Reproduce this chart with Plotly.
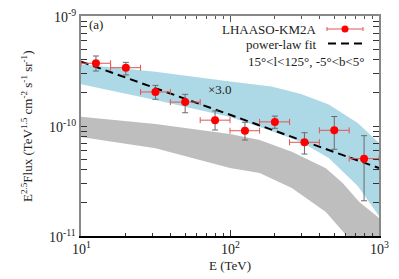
import math
import plotly.graph_objects as go

# ---- data ----
E = [12.6, 20.0, 31.6, 50.0, 79.4, 126.0, 200.0, 316.0, 501.0, 794.0]
E_lo = [10.0, 15.8, 25.1, 39.8, 63.1, 100.0, 158.0, 251.0, 398.0, 631.0]
E_hi = [15.8, 25.1, 39.8, 63.1, 100.0, 158.0, 251.0, 398.0, 631.0, 1000.0]
F = [3.72e-10, 3.39e-10, 2.04e-10, 1.65e-10, 1.13e-10, 9.06e-11, 1.09e-10, 7.11e-11, 9.14e-11, 5.05e-11]
F_up = [4.33e-10, 3.79e-10, 2.34e-10, 1.94e-10, 1.37e-10, 1.08e-10, 1.23e-10, 8.69e-11, 1.22e-10, 8.17e-11]
F_lo = [3.16e-10, 2.91e-10, 1.75e-10, 1.32e-10, 9.2e-11, 7.46e-11, 9.53e-11, 5.56e-11, 6.14e-11, 2.09e-11]

fit_E = [10.0, 1000.0]
fit_F = [3.85e-10, 4.15e-11]

blue_E = [10.0, 31.6, 100.0, 190.0, 300.0, 460.0, 720.0, 1000.0]
blue_hi = [3.64e-10, 3.115e-10, 2.537e-10, 2.286e-10, 1.954e-10, 1.568e-10, 1.064e-10, 7.0e-11]
blue_lo = [2.393e-10, 1.723e-10, 1.208e-10, 9.0e-11, 7.16e-11, 5.12e-11, 2.85e-11, 1.52e-11]

gray_hi_E = [10.0, 31.6, 100.0, 158.0, 260.0, 440.0, 570.0, 735.0, 1000.0]
gray_hi = [1.215e-10, 1.043e-10, 8.46e-11, 7.46e-11, 5.84e-11, 4.125e-11, 3.03e-11, 2.05e-11, 1.46e-11]
gray_lo_E = [10.0, 31.6, 100.0, 158.0, 260.0, 440.0, 600.0, 1000.0]
gray_lo = [7.94e-11, 6.27e-11, 4.15e-11, 3.74e-11, 2.73e-11, 1.65e-11, 1.02e-11, 5.0e-12]

x_major = [10, 100, 1000]
x_major_text = ["10<sup>1</sup>", "10<sup>2</sup>", "10<sup>3</sup>"]
y_major = [1e-11, 1e-10, 1e-9]
y_major_text = ["10<sup>-11</sup>", "10<sup>-10</sup>", "10<sup>-9</sup>"]

X_RANGE = [1, 3]
Y_RANGE = [-11, -9]

FONT = "Liberation Serif, Times New Roman, serif"
TXT = "#222"
BLUE = "#add8e6"
GRAY = "#bebebe"

# the page body has an 8px default margin; size the figure to fit the window
PAGE_OFF = 8

x_minor = [m * d for d in (10, 100) for m in range(2, 10)]
y_minor = [m * d for d in (1e-11, 1e-10) for m in range(2, 10)]

fig = go.Figure()

fig.add_trace(go.Scatter(
    x=blue_E + blue_E[::-1], y=blue_hi + blue_lo[::-1],
    fill="toself", fillcolor=BLUE, line=dict(width=0, color=BLUE),
    mode="lines", hoverinfo="skip", showlegend=False))
fig.add_trace(go.Scatter(
    x=gray_hi_E + gray_lo_E[::-1], y=gray_hi + gray_lo[::-1],
    fill="toself", fillcolor=GRAY, line=dict(width=0, color=GRAY),
    mode="lines", hoverinfo="skip", showlegend=False))

fig.add_trace(go.Scatter(
    x=fit_E, y=fit_F, mode="lines",
    line=dict(color="black", width=2, dash="8px,5px"), showlegend=False))

err_up = [u - f for u, f in zip(F_up, F)]
err_dn = [f - l for f, l in zip(F, F_lo)]
ex_up = [h - e for h, e in zip(E_hi, E)]
ex_dn = [e - l for e, l in zip(E, E_lo)]

fig.add_trace(go.Scatter(
    x=E, y=F, mode="markers", marker=dict(size=1, color="rgba(0,0,0,0)"),
    error_y=dict(type="data", array=err_up, arrayminus=err_dn, symmetric=False,
                 color="#6a6a6a", thickness=1, width=3),
    showlegend=False))
fig.add_trace(go.Scatter(
    x=E, y=F, mode="markers", marker=dict(size=8, color="red"),
    error_x=dict(type="data", array=ex_up, arrayminus=ex_dn, symmetric=False,
                 color="#e05555", thickness=1, width=3),
    showlegend=False))

fig.add_trace(go.Scatter(x=[10, 1000], y=[1e-10, 1e-10], xaxis="x2", mode="lines",
                         line=dict(width=0), hoverinfo="skip", showlegend=False))

fig.update_layout(
    width=399 - PAGE_OFF, height=279 - PAGE_OFF,
    margin=dict(l=81 - PAGE_OFF, r=20, t=16 - PAGE_OFF, b=43),
    paper_bgcolor="white", plot_bgcolor="white",
    font=dict(family=FONT, size=13, color=TXT),
    xaxis=dict(type="log", range=X_RANGE, showline=True, linecolor="black", linewidth=1.5,
               ticks="inside", ticklen=6, tickcolor="#333", showgrid=False, zeroline=False,
               tickvals=x_major, showticklabels=False,
               minor=dict(tickvals=x_minor, ticks="inside", ticklen=3, tickcolor="#333", showgrid=False)),
    xaxis2=dict(type="log", range=X_RANGE, overlaying="x", side="top", showline=True,
                linecolor="#888", linewidth=1.5, ticks="inside", ticklen=6, tickcolor="#555",
                showgrid=False, zeroline=False, tickvals=x_major, showticklabels=False,
                minor=dict(tickvals=x_minor, ticks="inside", ticklen=3, tickcolor="#555", showgrid=False)),
    yaxis=dict(type="log", range=Y_RANGE, showline=True, linecolor="#888", linewidth=1.5,
               mirror="allticks", ticks="inside", ticklen=6, tickcolor="#333", showgrid=False,
               zeroline=False, tickvals=y_major, showticklabels=False,
               minor=dict(tickvals=y_minor, ticks="inside", ticklen=3, tickcolor="#333", showgrid=False)),
)


def px(xp):
    return (xp - 81) / 298.0


def py(yp):
    return (236 - yp) / 220.0


def note(text, x, y, xanchor="center", yanchor="middle", size=13, angle=0):
    fig.add_annotation(text=text, xref="paper", yref="paper", x=x, y=y, textangle=angle,
                       showarrow=False, xanchor=xanchor, yanchor=yanchor,
                       font=dict(family=FONT, size=size, color=TXT))


# tick labels (positions derived from axis ranges)
for v, t in zip(x_major, x_major_text):
    xp = (math.log10(v) - X_RANGE[0]) / (X_RANGE[1] - X_RANGE[0])
    note(t, xp, py(248), size=14)
for v, t in zip(y_major, y_major_text):
    yp = (math.log10(v) - Y_RANGE[0]) / (Y_RANGE[1] - Y_RANGE[0])
    note(t, px(78), yp, xanchor="right", size=14)

# axis titles
note("E<sup>2.5</sup>Flux (TeV<sup>1.5</sup> cm<sup>-2</sup> s<sup>-1</sup> sr<sup>-1</sup>)",
     px(27), 0.5, angle=-90)
note("E (TeV)", 0.5, py(265))

# panel label and band label
note("(a)", px(87), py(25), xanchor="left")
note("×3.0", px(206), py(89), xanchor="left")

# manual legend
note("LHAASO-KM2A", px(319), py(29), xanchor="right")
note("power-law fit", px(319), py(44), xanchor="right")
note("15°<l<125°, -5°<b<5°", px(367), py(61), xanchor="right")

fig.add_shape(type="line", xref="paper", yref="paper", x0=px(327), x1=px(363), y0=py(29), y1=py(29),
              line=dict(color="#e05555", width=1))
for xx in (327, 363):
    fig.add_shape(type="line", xref="paper", yref="paper", x0=px(xx), x1=px(xx), y0=py(27), y1=py(31),
                  line=dict(color="#e05555", width=1))
fig.add_shape(type="circle", xref="paper", yref="paper", x0=px(341.5), x1=px(348.5),
              y0=py(32.5), y1=py(25.5), fillcolor="red", line=dict(color="red", width=0))
fig.add_shape(type="line", xref="paper", yref="paper", x0=px(328), x1=px(363), y0=py(43.5), y1=py(43.5),
              line=dict(color="black", width=2, dash="8px,5px"))

fig.write_html("out.html")
